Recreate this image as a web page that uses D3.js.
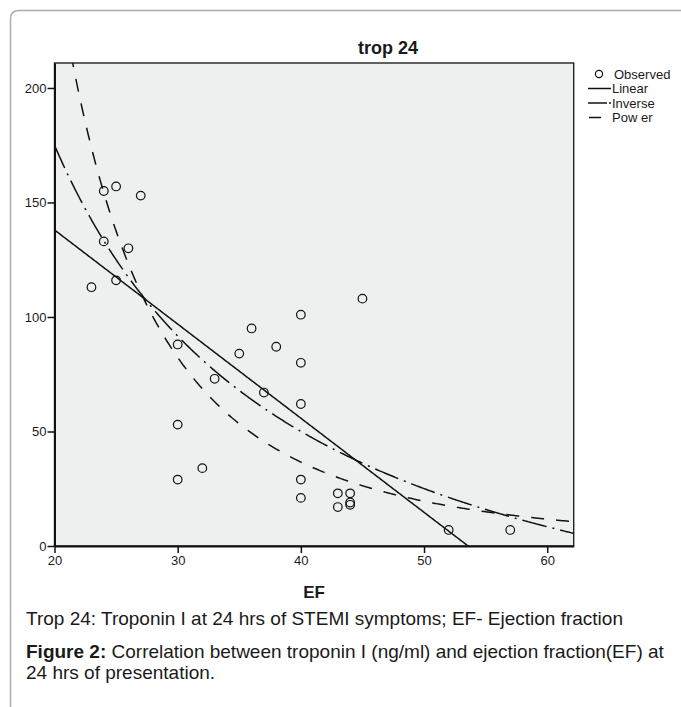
<!DOCTYPE html>
<html>
<head>
<meta charset="utf-8">
<script src="https://cdn.jsdelivr.net/npm/d3@7"></script>
<style>
  html, body { margin: 0; padding: 0; background: #fff; }
  svg text { font-family: "Liberation Sans", Arial, sans-serif; fill: #1a1a1a; }
</style>
</head>
<body>
<div id="chart"></div>
<script>
// observed points (EF %, troponin I at 24 hrs)
const efValues   = [24, 25, 27, 24, 26, 23, 25, 30, 35, 36, 38, 40, 40, 40, 33, 37, 30, 30, 32, 40, 40, 43, 43, 45, 44, 44, 44, 52, 57];
const tropValues = [155, 157, 153, 133, 130, 113, 116, 88, 84, 95, 87, 101, 80, 62, 73, 67, 53, 29, 34, 29, 21, 23, 17, 108, 23, 19, 18, 7, 7];

// fitted curves, coefficients
const linearFit  = [220.2, -4.11];     // b0 + b1*x
const inverseFit = [-74.9, 4998];      // b0 + b1/x
const powerFit   = [1.181e6, -2.814];  // b0 * x^b1

const xTicks = [20, 30, 40, 50, 60];
const yTicks = [0, 50, 100, 150, 200];
const legendLabels = ['Observed', 'Linear', 'Inverse', 'Pow er'];

const width = 681, height = 707;
const plot = { left: 54.5, right: 573.7, top: 63, bottom: 546 };

const svg = d3.select('#chart')
    .append('svg')
    .attr('width', width)
    .attr('height', height);

// page frame
svg.append('path')
    .attr('d', `M10.5,${height + 5} L10.5,19 Q10.5,10.5 19,10.5 L${width + 5},10.5`)
    .attr('fill', 'none')
    .attr('stroke', '#ababab')
    .attr('stroke-width', 1.5);

const x = d3.scaleLinear().domain([20, 62.15]).range([plot.left, plot.right]);
const y = d3.scaleLinear().domain([0, 210.9]).range([plot.bottom, plot.top]);

// plot background
svg.append('rect')
    .attr('x', plot.left)
    .attr('y', plot.top)
    .attr('width', plot.right - plot.left)
    .attr('height', plot.bottom - plot.top)
    .attr('fill', '#eef0ef')
    .attr('stroke', '#222')
    .attr('stroke-width', 1.4);

svg.append('defs').append('clipPath')
    .attr('id', 'clip')
    .append('rect')
    .attr('x', plot.left)
    .attr('y', plot.top)
    .attr('width', plot.right - plot.left)
    .attr('height', plot.bottom - plot.top);

// curves
const xs = d3.range(20, 62.2, 0.1);
const curves = [
    { f: v => linearFit[0] + linearFit[1] * v, dash: null },
    { f: v => inverseFit[0] + inverseFit[1] / v, dash: '25,6,2,6' },
    { f: v => powerFit[0] * Math.pow(v, powerFit[1]), dash: '13,12' }
];
const line = f => d3.line().x(d => x(d)).y(d => y(f(d)))(xs);

svg.append('g')
    .attr('clip-path', 'url(#clip)')
    .selectAll('path')
    .data(curves)
    .enter()
    .append('path')
    .attr('d', d => line(d.f))
    .attr('fill', 'none')
    .attr('stroke', '#111')
    .attr('stroke-width', 1.5)
    .attr('stroke-dasharray', d => d.dash);

// points
svg.append('g')
    .selectAll('circle')
    .data(efValues.map((v, i) => [v, tropValues[i]]))
    .enter()
    .append('circle')
    .attr('cx', d => x(d[0]))
    .attr('cy', d => y(d[1]))
    .attr('r', 4.3)
    .attr('fill', 'none')
    .attr('stroke', '#111')
    .attr('stroke-width', 1.2);

// axes
const xAxis = svg.append('g')
    .attr('transform', `translate(0,${plot.bottom})`)
    .call(d3.axisBottom(x).tickValues(xTicks).tickSize(7).tickSizeOuter(0).tickPadding(3));
const yAxis = svg.append('g')
    .attr('transform', `translate(${plot.left},0)`)
    .call(d3.axisLeft(y).tickValues(yTicks).tickSize(7).tickSizeOuter(0).tickPadding(1));

[xAxis, yAxis].forEach(a => {
    a.select('.domain').attr('stroke', '#111').attr('stroke-width', 2);
    a.selectAll('.tick line').attr('stroke', '#111').attr('stroke-width', 1.5);
    a.selectAll('.tick text')
        .attr('font-family', '"Liberation Sans", Arial, sans-serif')
        .attr('font-size', 13)
        .attr('fill', '#1a1a1a');
});

// title and axis label
svg.append('text')
    .attr('x', 388)
    .attr('y', 54)
    .attr('text-anchor', 'middle')
    .attr('font-size', 18)
    .attr('font-weight', 'bold')
    .text('trop 24');

svg.append('text')
    .attr('x', 314)
    .attr('y', 598)
    .attr('text-anchor', 'middle')
    .attr('font-size', 17)
    .attr('font-weight', 'bold')
    .text('EF');

// legend
const legend = svg.append('g').attr('transform', 'translate(588,74)');
legendLabels.forEach((label, i) => {
    const g = legend.append('g').attr('transform', `translate(0,${i * 14.5})`);
    if (i === 0) {
        g.append('circle').attr('cx', 11).attr('cy', 0).attr('r', 3.6)
            .attr('fill', 'none').attr('stroke', '#111').attr('stroke-width', 1.2);
    } else if (i === 1) {
        g.append('line').attr('x1', 0).attr('x2', 23).attr('stroke', '#111').attr('stroke-width', 1.5);
    } else if (i === 2) {
        g.append('line').attr('x1', 0).attr('x2', 19).attr('stroke', '#111').attr('stroke-width', 1.5);
        g.append('line').attr('x1', 21).attr('x2', 23).attr('stroke', '#111').attr('stroke-width', 1.5);
    } else {
        g.append('line').attr('x1', 1).attr('x2', 13).attr('stroke', '#111').attr('stroke-width', 1.5);
    }
    g.append('text')
        .attr('x', i === 0 ? 26 : 24)
        .attr('y', 4.5)
        .attr('font-size', 13)
        .text(label);
});

// caption
const captionSize = 19;
svg.append('text')
    .attr('x', 26)
    .attr('y', 625)
    .attr('font-size', captionSize)
    .text('Trop 24: Troponin I at 24 hrs of STEMI symptoms; EF- Ejection fraction');

const cap = svg.append('text')
    .attr('x', 26)
    .attr('y', 658)
    .attr('font-size', captionSize);
cap.append('tspan').attr('font-weight', 'bold').text('Figure 2:');
cap.append('tspan').text(' Correlation between troponin I (ng/ml) and ejection fraction(EF) at');

svg.append('text')
    .attr('x', 26)
    .attr('y', 679)
    .attr('font-size', captionSize)
    .text('24 hrs of presentation.');
</script>
</body>
</html>
